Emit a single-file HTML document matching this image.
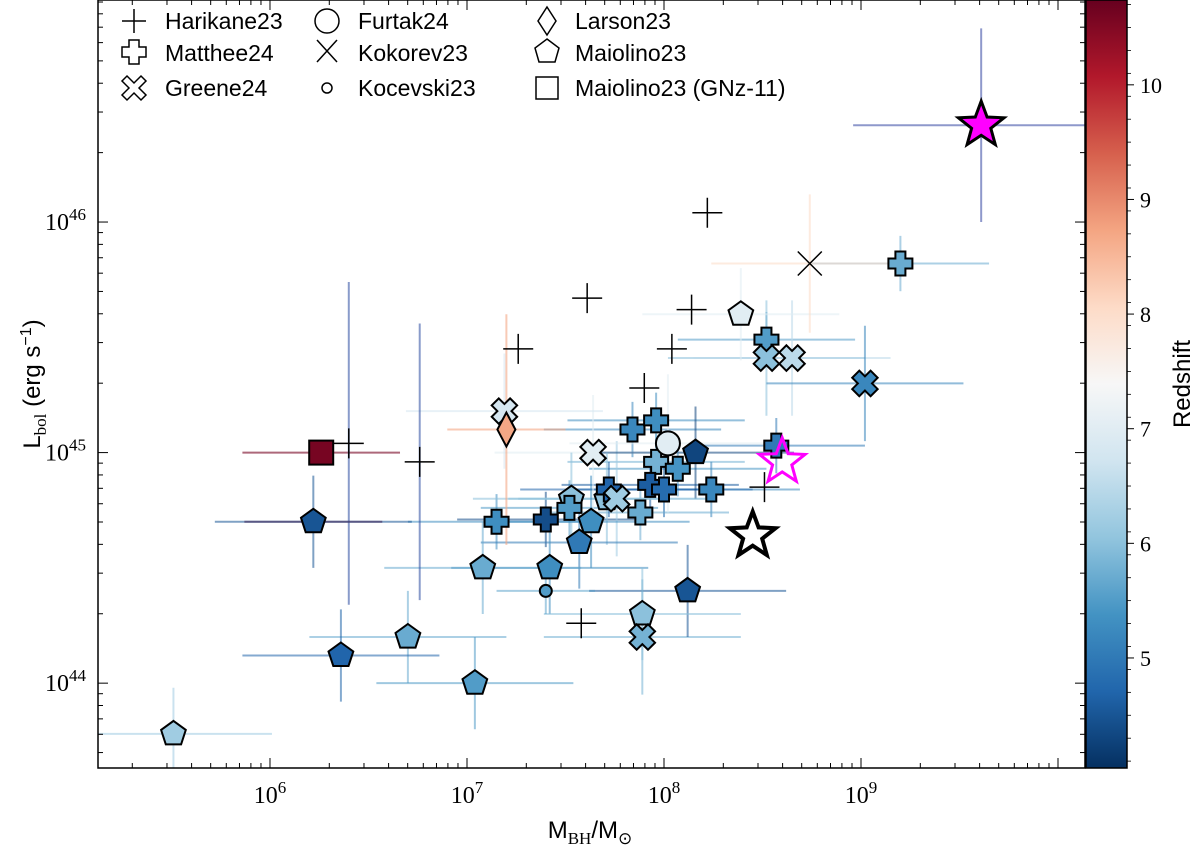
<!DOCTYPE html>
<html><head><meta charset="utf-8"><style>
body{margin:0;background:#fff}
svg text{font-family:"Liberation Sans",sans-serif}
.serif{font-family:"Liberation Serif",serif}
</style></head><body>
<svg id="chart" width="1200" height="846" viewBox="0 0 1200 846" xmlns="http://www.w3.org/2000/svg">
<defs>
<linearGradient id="cbg" x1="0" y1="1" x2="0" y2="0">
<stop offset="0" stop-color="#053061"/><stop offset="0.1" stop-color="#2166ac"/><stop offset="0.2" stop-color="#4393c3"/><stop offset="0.3" stop-color="#92c5de"/><stop offset="0.4" stop-color="#d1e5f0"/><stop offset="0.5" stop-color="#f7f7f7"/><stop offset="0.6" stop-color="#fddbc7"/><stop offset="0.7" stop-color="#f4a582"/><stop offset="0.8" stop-color="#d6604d"/><stop offset="0.9" stop-color="#b2182b"/><stop offset="1" stop-color="#67001f"/>
</linearGradient>
<clipPath id="pc"><rect x="98" y="0" width="987" height="768"/></clipPath>
</defs>
<g id="bars" clip-path="url(#pc)"></g>
<g id="marks" clip-path="url(#pc)"></g>
<g id="axes"></g>
</svg>
<script>
// ---- data (log10 values) ----
const harM=[8.22,7.61,7.26,8.14,8.04,7.90,6.40,6.76,7.58,8.51];
const harL=[46.04,45.67,45.45,45.62,45.45,45.28,45.04,44.96,44.26,44.85];
const matM=[9.20,8.52,7.84,7.96,8.57,7.96,8.07,7.52,8.24,7.93,8.00,7.88,7.15,7.40,7.72];
const matL=[45.82,45.49,45.10,45.14,45.03,44.96,44.93,44.76,44.84,44.86,44.84,44.74,44.70,44.71,44.84];
const matZ=[5.7,5.5,5.2,5.3,5.0,5.8,5.4,5.5,5.2,4.6,4.8,5.7,5.3,4.4,4.7];
const greM=[7.64,7.19,8.52,8.65,9.02,7.89,7.76];
const greL=[45.0,45.18,45.41,45.41,45.30,44.20,44.80];
const greZ=[7.0,6.8,6.0,6.5,5.2,5.8,6.2];
const maiM=[6.22,8.16,7.53,7.71,7.63,7.57,7.42,7.08,8.12,7.89,6.70,6.36,7.04,5.51,8.39];
const maiL=[44.70,45.0,44.80,44.80,44.70,44.61,44.50,44.50,44.40,44.30,44.20,44.12,44.0,43.78,45.60];
const maiZ=[4.5,4.3,6.0,6.0,5.3,5.0,5.3,5.7,4.5,6.0,5.7,4.7,5.5,6.2,7.0];
const furM=[8.02], furL=[45.04], furZ=[7.0];
const kokM=[8.74], kokL=[45.82], kokZ=[8.0];
const larM=[7.20], larL=[45.10], larZ=[8.7];
const kocM=[7.40], kocL=[44.40], kocZ=[5.5];
const gnzM=[6.26], gnzL=[45.0], gnzZ=[10.6];
const starM=[9.61,8.60,8.45], starL=[46.42,44.96,44.64];
const xTicks=[6,7,8,9], yTicks=[44,45,46], cbTicks=[5,6,7,8,9,10];
// ---- scales ----
const X0=98,X1=1085,Y0=0,Y1=768;
const xmin=5.127,xmax=10.137,ymin=43.632,ymax=46.963,zmin=4.04,zmax=10.74;
const sx=v=>X0+(v-xmin)/(xmax-xmin)*(X1-X0);
const sy=v=>Y1-(v-ymin)/(ymax-ymin)*(Y1-Y0);
const sz=v=>768-(v-zmin)/(zmax-zmin)*768;
const stops=["#053061","#2166ac","#4393c3","#92c5de","#d1e5f0","#f7f7f7","#fddbc7","#f4a582","#d6604d","#b2182b","#67001f"];
function hex(h){return [1,3,5].map(i=>parseInt(h.substr(i,2),16));}
function cmap(z){let t=Math.max(0,Math.min(1,(z-zmin)/(zmax-zmin)))*10;let i=Math.min(9,Math.floor(t)),f=t-i;
 const a=hex(stops[i]),b=hex(stops[i+1]);return 'rgb('+a.map((v,k)=>Math.round(v+(b[k]-v)*f)).join(',')+')';}
const NS="http://www.w3.org/2000/svg";
function el(tag,attrs,parent){const e=document.createElementNS(NS,tag);for(const k in attrs)e.setAttribute(k,attrs[k]);parent.appendChild(e);return e;}
const bars=document.getElementById('bars'),marks=document.getElementById('marks'),axes=document.getElementById('axes');
function errbar(m,l,xe,ye,col,op){
 const g=el('g',{},bars);
 
 
 el('line',{x1:sx(m-xe),x2:sx(m+xe),y1:sy(l),y2:sy(l),stroke:col,'stroke-width':2,opacity:op},g);
 el('line',{x1:sx(m),x2:sx(m),y1:sy(l-ye),y2:sy(l+ye),stroke:col,'stroke-width':2,opacity:op},g);
}
function plusPath(cx,cy,s,w){return `M${cx-w},${cy-s}H${cx+w}V${cy-w}H${cx+s}V${cy+w}H${cx+w}V${cy+s}H${cx-w}V${cy+w}H${cx-s}V${cy-w}H${cx-w}Z`;}
function polyPts(cx,cy,r,n,rot,inner){let p=[];const N=inner?n*2:n;for(let i=0;i<N;i++){const rr=inner&&i%2?r*inner:r;const a=rot+i*2*Math.PI/N;p.push((cx+rr*Math.sin(a)).toFixed(1)+','+(cy-rr*Math.cos(a)).toFixed(1));}return p.join(' ');}
function marker(type,cx,cy,fill,parent,sz){
 let e;sz=sz||1;
 const st={stroke:'#000','stroke-width':2,fill:fill};
 if(type==='plus'){e=el('path',Object.assign({d:plusPath(cx,cy,12*sz,5*sz)},st),parent);}
 else if(type==='xfill'){e=el('path',Object.assign({d:plusPath(cx,cy,13*sz,5*sz),transform:`rotate(45 ${cx} ${cy})`},st),parent);}
 else if(type==='pent'){e=el('polygon',Object.assign({points:polyPts(cx,cy,13*sz,5,0)},st),parent);}
 else if(type==='circle'){e=el('circle',Object.assign({cx,cy,r:12*sz},st),parent);}
 else if(type==='small'){e=el('circle',Object.assign({cx,cy,r:6*sz},st),parent);}
 else if(type==='diamond'){e=el('polygon',Object.assign({points:`${cx},${cy-17*sz} ${cx+9*sz},${cy} ${cx},${cy+17*sz} ${cx-9*sz},${cy}`},st),parent);}
 else if(type==='square'){e=el('rect',Object.assign({x:cx-12*sz,y:cy-12*sz,width:24*sz,height:24*sz},st),parent);}
 else if(type==='thin'){e=el('path',{d:`M${cx-15*sz},${cy}H${cx+15*sz}M${cx},${cy-15*sz}V${cy+15*sz}`,stroke:'#000','stroke-width':1.5,fill:'none'},parent);}
 else if(type==='thinx'){e=el('path',{d:`M${cx-12*sz},${cy-12*sz}L${cx+12*sz},${cy+12*sz}M${cx+12*sz},${cy-12*sz}L${cx-12*sz},${cy+12*sz}`,stroke:'#000','stroke-width':1.5,fill:'none'},parent);}
 return e;
}
// error bars
matM.forEach((m,i)=>errbar(m,matL[i],0.45,0.12,cmap(matZ[i]),0.55));
greM.forEach((m,i)=>errbar(m,greL[i],0.5,0.25,cmap(greZ[i]),0.55));
maiM.forEach((m,i)=>errbar(m,maiL[i],0.5,0.2,cmap(maiZ[i]),0.55));
harM.forEach((m,i)=>errbar(m,harL[i],0.12,0.0,'#333',0.0));
errbar(kokM[0],kokL[0],0.5,0.3,cmap(kokZ[0]),0.6);
errbar(larM[0],larL[0],0.3,0.5,cmap(larZ[0]),0.6);
errbar(furM[0],furL[0],0.5,0.3,cmap(furZ[0]),0.5);
errbar(kocM[0],kocL[0],0.25,0.1,cmap(kocZ[0]),0.5);
errbar(gnzM[0],gnzL[0],0.4,0.0,cmap(gnzZ[0]),0.6);
errbar(6.4,45.04,0.0,0.7,'#2a4aa0',0.55);
errbar(6.76,44.96,0.0,0.6,'#2a4aa0',0.55);
errbar(starM[0],starL[0],0.65,0.42,'#4455aa',0.6);
errbar(6.22,44.70,0.35,0.0,'#4b3a6a',0.7);
// markers
function add(type,M,L,Z,name){M.forEach((m,i)=>{const e=marker(type,sx(m),sy(L[i]),Z?cmap(Z[i]):'none',marks);
 
 });}
add('thin',harM,harL,null,'harikane23-point');
add('pent',maiM,maiL,maiZ,'maiolino23-point');
add('plus',matM,matL,matZ,'matthee24-point');
add('xfill',greM,greL,greZ,'greene24-point');
add('circle',furM,furL,furZ,'furtak24-point');
add('thinx',kokM,kokL,null,'kokorev23-point');
add('diamond',larM,larL,larZ,'larson23-point');
add('small',kocM,kocL,kocZ,'kocevski23-point');
add('square',gnzM,gnzL,gnzZ,'gnz11-point');
[['#ff00ff','#000',3,'filled-magenta-star'],['none','#ff00ff',3,'open-magenta-star'],['none','#000',4,'open-black-star']].forEach((s,i)=>{
 const e=el('polygon',{points:polyPts(sx(starM[i]),sy(starL[i]),24,5,0,0.42),fill:s[0],stroke:s[1],'stroke-width':s[2]},marks);
 
 
});
// axes frame
const fr=el('rect',{x:X0,y:Y0,width:X1-X0,height:Y1-Y0,fill:'none',stroke:'#000','stroke-width':1.5},axes);


for(let d=5;d<=10;d++)for(let k=1;k<10;k++){const v=d+Math.log10(k);if(v<xmin||v>xmax)continue;const x=sx(v),len=k===1?10:5;
 el('line',{x1:x,x2:x,y1:Y1,y2:Y1-len,stroke:'#000','stroke-width':1},axes);el('line',{x1:x,x2:x,y1:0,y2:len,stroke:'#000','stroke-width':1},axes);}
for(let d=43;d<=47;d++)for(let k=1;k<10;k++){const v=d+Math.log10(k);if(v<ymin||v>ymax)continue;const y=sy(v),len=k===1?10:5;
 el('line',{x1:X0,x2:X0+len,y1:y,y2:y,stroke:'#000','stroke-width':1},axes);el('line',{x1:X1,x2:X1-len,y1:y,y2:y,stroke:'#000','stroke-width':1},axes);}
xTicks.forEach(v=>{const t=el('text',{x:sx(v),y:803,'text-anchor':'middle','font-size':24,class:'serif'},axes);t.innerHTML='10<tspan dy="-10" font-size="17">'+v+'</tspan>';
 
 });
yTicks.forEach(v=>{const t=el('text',{x:86,y:sy(v)+8,'text-anchor':'end','font-size':24,class:'serif'},axes);t.innerHTML='10<tspan dy="-10" font-size="17">'+v+'</tspan>';
 
 });
// colorbar
const cb=el('rect',{x:1086,y:0,width:41,height:768,fill:'url(#cbg)',stroke:'#000','stroke-width':1.5},axes);


cbTicks.forEach(v=>{const y=sz(v);el('line',{x1:1127,x2:1134,y1:y,y2:y,stroke:'#000'},axes);
 const t=el('text',{x:1140,y:y+8,'font-size':22,class:'serif'},axes);t.textContent=v;
 
 });
for(let v=4.1;v<10.7;v+=0.2){if(Math.abs(v-Math.round(v))<0.05)continue;const y=sz(v);el('line',{x1:1127,x2:1131,y1:y,y2:y,stroke:'#000','stroke-width':0.8},axes);}
</script>
<svg style="position:absolute;left:0;top:0" width="1200" height="846" xmlns="http://www.w3.org/2000/svg">
<text x="1190" y="384" font-size="24" font-family="Liberation Sans,sans-serif" text-anchor="middle" transform="rotate(-90 1190 384)">Redshift</text>
<text x="40" y="384" font-size="24" font-family="Liberation Sans,sans-serif" text-anchor="middle" transform="rotate(-90 40 384)">L<tspan font-family="Liberation Serif,serif" font-size="17" dy="6">bol</tspan><tspan dy="-6"> (erg s</tspan><tspan font-size="16" dy="-9">−1</tspan><tspan dy="9">)</tspan></text>
<text x="590" y="838" font-size="24" font-family="Liberation Sans,sans-serif" text-anchor="middle">M<tspan font-family="Liberation Serif,serif" font-size="17" dy="6">BH</tspan><tspan dy="-6">/M</tspan><tspan font-size="17" dy="6">⊙</tspan></text>
<g font-size="23" font-family="Liberation Sans,sans-serif" fill="#000">
<path d="M122,21H146M134,9V33" stroke="#000" stroke-width="1.5"/><text x="165" y="29">Harikane23</text>
<path d="M129,40H139V47H146V57H139V64H129V57H122V47H129Z" fill="none" stroke="#000" stroke-width="1.5"/><text x="165" y="61">Matthee24</text>
<path d="M127,76L134,83L141,76L146,81L139,88L146,95L141,100L134,93L127,100L122,95L129,88L122,81Z" fill="none" stroke="#000" stroke-width="1.5"/><text x="165" y="96">Greene24</text>
<circle cx="327" cy="21" r="12" fill="none" stroke="#000" stroke-width="1.5"/><text x="358" y="29">Furtak24</text>
<path d="M317,40L337,62M337,40L317,62" stroke="#000" stroke-width="1.5"/><text x="358" y="61">Kokorev23</text>
<circle cx="327" cy="88" r="5" fill="none" stroke="#000" stroke-width="1.5"/><text x="358" y="96">Kocevski23</text>
<polygon points="547,7 556,21 547,35 538,21" fill="none" stroke="#000" stroke-width="1.5"/><text x="575" y="29">Larson23</text>
<polygon points="547,39 559,48 555,62 539,62 535,48" fill="none" stroke="#000" stroke-width="1.5"/><text x="575" y="61">Maiolino23</text>
<rect x="536" y="77" width="22" height="22" fill="none" stroke="#000" stroke-width="1.5"/><text x="575" y="96">Maiolino23 (GNz-11)</text>
</g>
</svg>
</body></html>
